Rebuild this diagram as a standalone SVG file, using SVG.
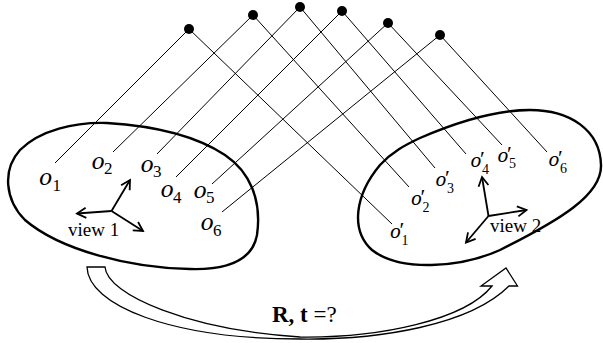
<svg xmlns="http://www.w3.org/2000/svg" width="603" height="343" viewBox="0 0 603 343">
<style>
.blob{fill:none;stroke:#000;stroke-width:2.4}
.ray{stroke:#000;stroke-width:1;fill:none}
.dot{fill:#000}
.ax{stroke:#000;stroke-width:1.8;fill:none;marker-end:url(#ah)}
.lo{font-family:"DejaVu Serif",serif;font-style:italic;font-size:22px}
.ls{font-family:"Liberation Serif",serif;font-style:normal;font-size:17px}
.ro{font-family:"DejaVu Serif",serif;font-style:italic;font-size:18px}
.rs{font-family:"Liberation Serif",serif;font-style:normal;font-size:14px}
.pr{font-family:"Liberation Serif",serif;font-style:normal;font-size:22px}
.vw{font-family:"Liberation Serif",serif;font-size:19px}
.big{fill:#fff;stroke:#000;stroke-width:1.3;stroke-linejoin:miter}
</style>
<defs>
<marker id="ah" markerUnits="userSpaceOnUse" markerWidth="20" markerHeight="20" refX="0" refY="0" orient="auto" overflow="visible">
<path d="M -9 -5 L 0 0 L -9 5" fill="none" stroke="#000" stroke-width="1.8"/>
</marker>
</defs>
<g id="view1">
<path class="blob" d="M 107 123 C 140 125, 190 132, 225 155 C 250 172, 262 200, 257 235 C 252 262, 225 270, 190 269 C 130 268, 60 250, 25 220 C 5 200, 2 170, 20 150 C 40 130, 75 122, 107 123 Z"/>
<line class="ax" x1="111.5" y1="211" x2="130" y2="180"/>
<line class="ax" x1="111.5" y1="211" x2="77" y2="213.5"/>
<line class="ax" x1="111.5" y1="211" x2="143" y2="231"/>
<text class="vw" x="68" y="236">view 1</text>
</g>
<g id="view2">
<path class="blob" d="M 420 138 C 450 125, 490 110, 530 110 C 570 110, 600 130, 601 165 C 602 195, 560 220, 500 250 C 460 268, 400 272, 372 250 C 350 230, 355 195, 380 165 C 392 152, 405 145, 420 138 Z"/>
<line class="ax" x1="488.5" y1="216" x2="482" y2="177"/>
<line class="ax" x1="488.5" y1="216" x2="526.5" y2="210"/>
<line class="ax" x1="488.5" y1="216" x2="466" y2="242.5"/>
<text class="vw" x="490" y="231.5">view 2</text>
</g>
<g id="connectors">
<line class="ray" x1="189" y1="29" x2="55" y2="163"/>
<line class="ray" x1="253" y1="15" x2="113" y2="152"/>
<line class="ray" x1="300" y1="7" x2="157" y2="154"/>
<line class="ray" x1="342" y1="11" x2="176" y2="177"/>
<line class="ray" x1="388" y1="23" x2="212" y2="184"/>
<line class="ray" x1="440" y1="35" x2="222" y2="212"/>
<line class="ray" x1="189" y1="29" x2="392" y2="224"/>
<line class="ray" x1="253" y1="15" x2="409" y2="187"/>
<line class="ray" x1="300" y1="7" x2="435" y2="168"/>
<line class="ray" x1="342" y1="11" x2="466" y2="154"/>
<line class="ray" x1="388" y1="23" x2="502" y2="145"/>
<line class="ray" x1="440" y1="35" x2="547" y2="152"/>
</g>
<g id="p1"><circle class="dot" cx="189" cy="29" r="5"/></g>
<g id="p2"><circle class="dot" cx="253" cy="15" r="5"/></g>
<g id="p3"><circle class="dot" cx="300" cy="7" r="5"/></g>
<g id="p4"><circle class="dot" cx="342" cy="11" r="5"/></g>
<g id="p5"><circle class="dot" cx="388" cy="23" r="5"/></g>
<g id="p6"><circle class="dot" cx="440" cy="35" r="5"/></g>
<g id="o1"><text class="lo" x="39" y="185">o<tspan class="ls" x="52.5" y="190.5">1</tspan></text></g>
<g id="o2"><text class="lo" x="91.5" y="169">o<tspan class="ls" x="104" y="174">2</tspan></text></g>
<g id="o3"><text class="lo" x="140.5" y="171.5">o<tspan class="ls" x="153" y="176.5">3</tspan></text></g>
<g id="o4"><text class="lo" x="160.5" y="197">o<tspan class="ls" x="173" y="202.5">4</tspan></text></g>
<g id="o5"><text class="lo" x="193.5" y="198">o<tspan class="ls" x="206" y="203">5</tspan></text></g>
<g id="o6"><text class="lo" x="200.5" y="230">o<tspan class="ls" x="213" y="235.5">6</tspan></text></g>
<g id="q1"><text class="ro" x="390" y="238">o<tspan class="pr" x="399.5" y="237">′</tspan><tspan class="rs" x="401.5" y="245">1</tspan></text></g>
<g id="q2"><text class="ro" x="411" y="205">o<tspan class="pr" x="420.5" y="204">′</tspan><tspan class="rs" x="422.5" y="212">2</tspan></text></g>
<g id="q3"><text class="ro" x="435.5" y="186">o<tspan class="pr" x="445" y="185">′</tspan><tspan class="rs" x="447" y="192.5">3</tspan></text></g>
<g id="q4"><text class="ro" x="470.5" y="167">o<tspan class="pr" x="480" y="166">′</tspan><tspan class="rs" x="482" y="174">4</tspan></text></g>
<g id="q5"><text class="ro" x="497.5" y="161.5">o<tspan class="pr" x="507" y="160.5">′</tspan><tspan class="rs" x="509" y="168">5</tspan></text></g>
<g id="q6"><text class="ro" x="548.5" y="166">o<tspan class="pr" x="558" y="165">′</tspan><tspan class="rs" x="560" y="172.5">6</tspan></text></g>
<g id="transform">
<path class="big" d="M 87 267 L 105 267 C 107 295, 190 330, 300 337 C 380 338, 465 320, 492 286 L 481 286 L 506 268 L 517.5 286 L 509 286 C 470 325, 380 340, 300 339 C 170 339, 88 305, 87 267 Z"/>
<text x="272" y="322" font-family="Liberation Serif, serif" font-size="23px"><tspan font-weight="bold">R, t</tspan> =?</text>
</g>
</svg>
